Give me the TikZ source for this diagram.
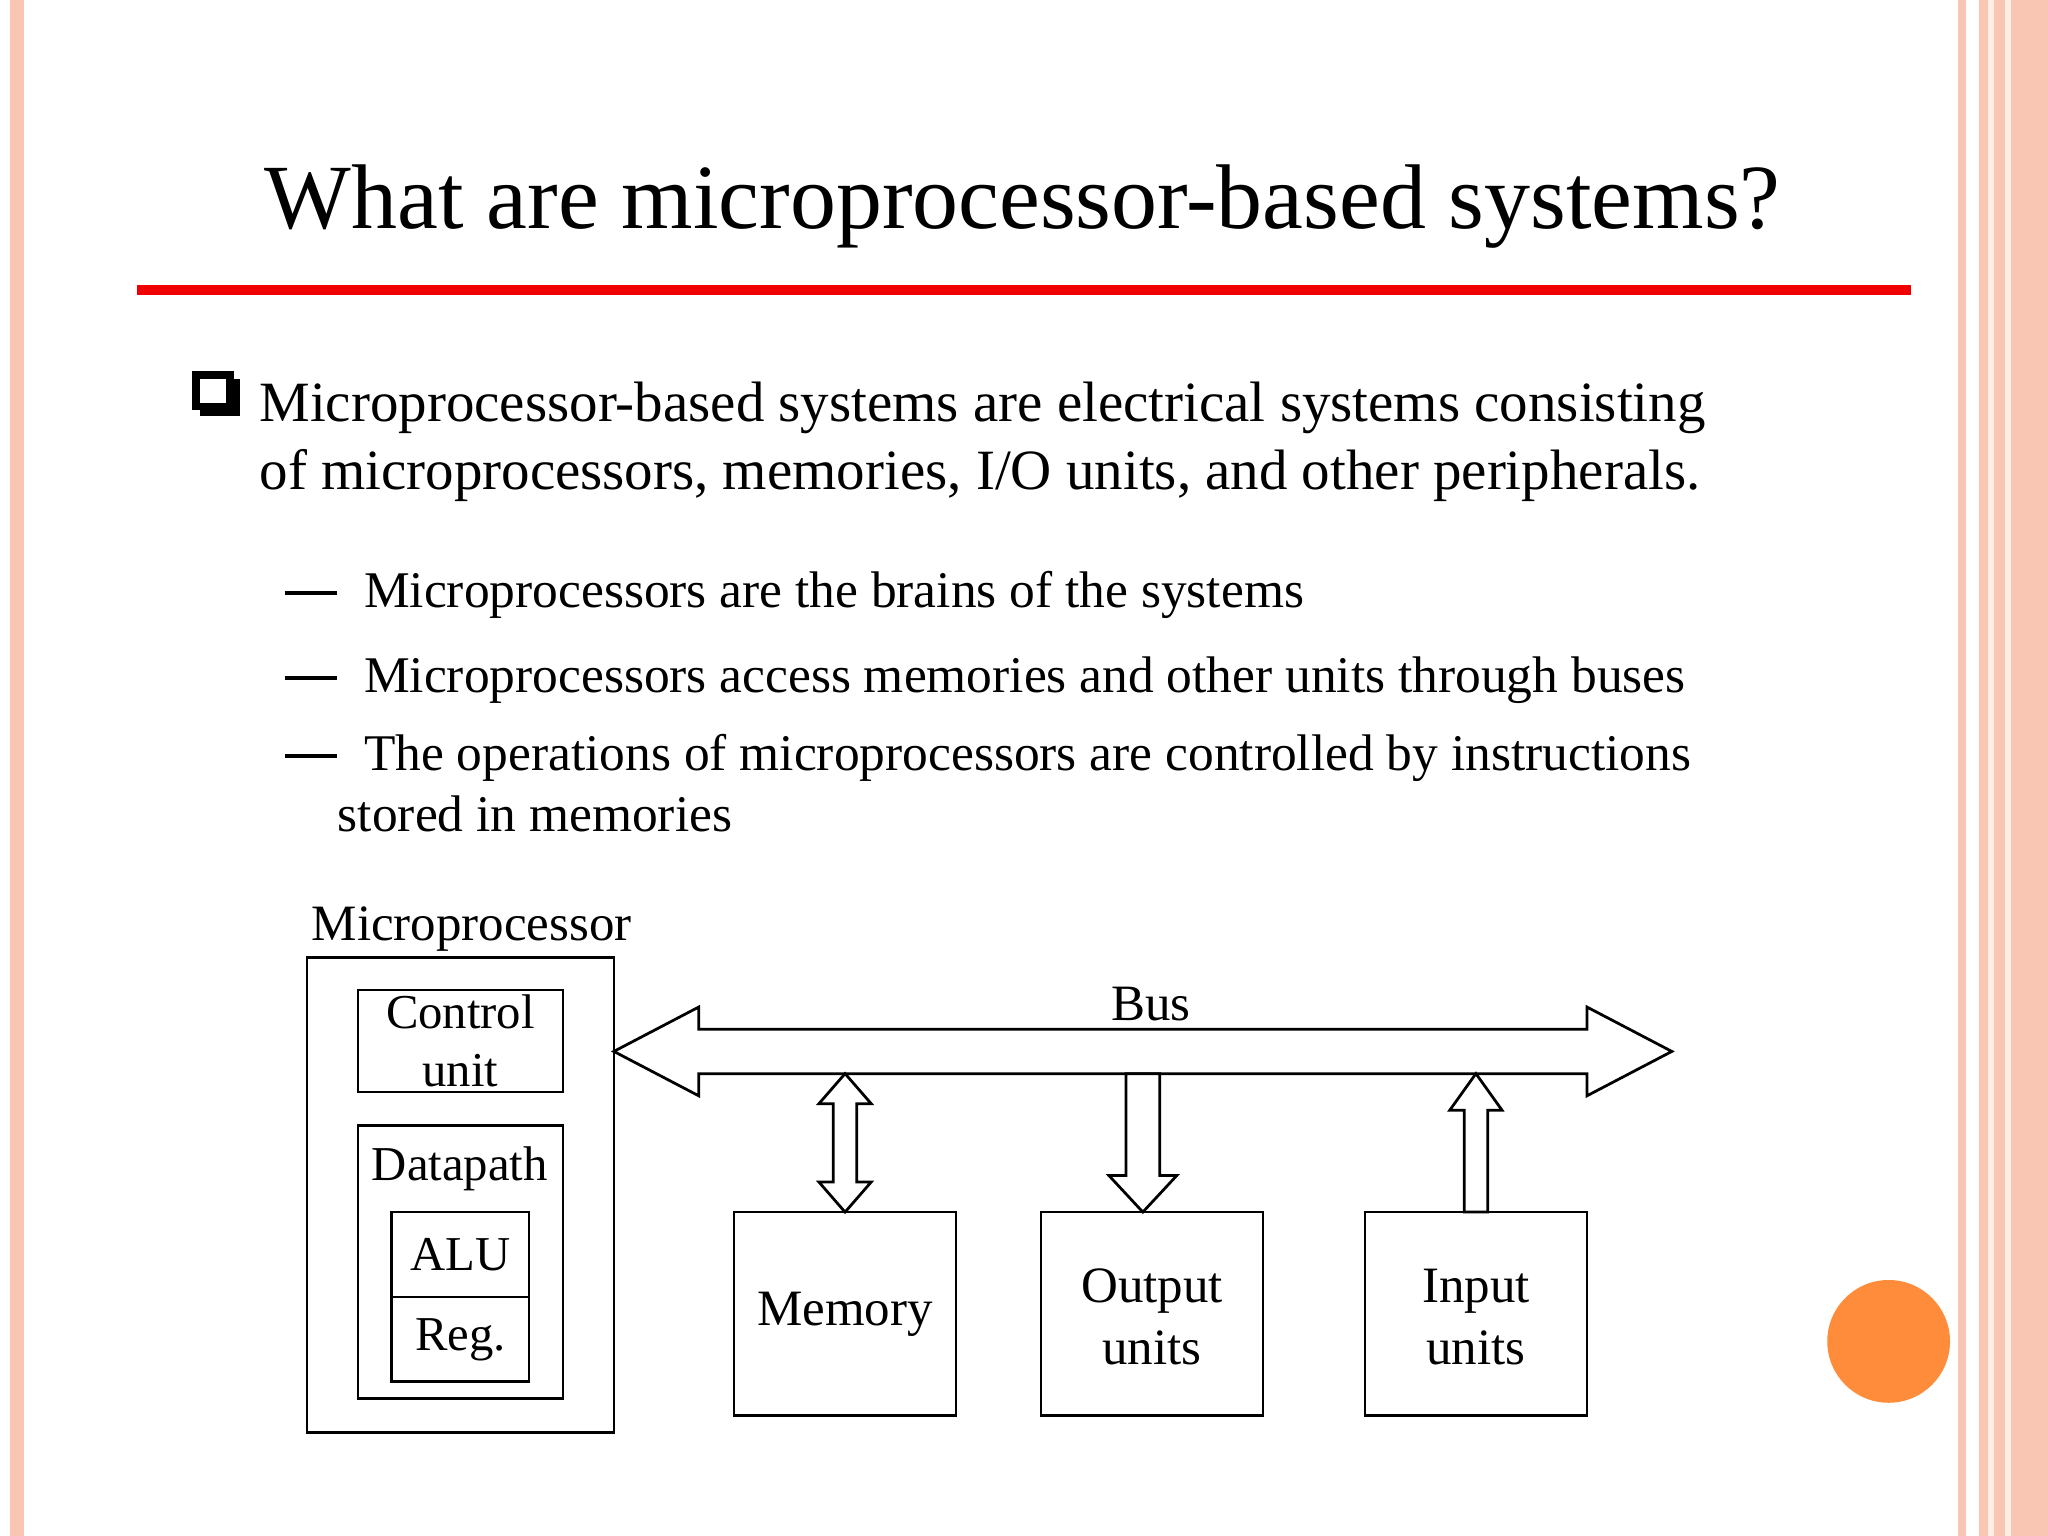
\documentclass[tikz,border=0pt]{standalone}
\usepackage{fontspec}
\setmainfont{Liberation Serif}
\definecolor{salmon}{HTML}{F8C6B2}
\definecolor{redline}{HTML}{F00000}
\definecolor{dot}{HTML}{FF8C3A}
\begin{document}
\begin{tikzpicture}[x=0.01cm,y=-0.01cm,
  box/.style={draw,line width=0.6pt},
  lbl/.style={font=\fontsize{11.1}{13.5}\selectfont,align=center,inner sep=0pt},
  slbl/.style={font=\fontsize{10.6}{12.5}\selectfont,align=center,inner sep=0pt},
  body/.style={font=\fontsize{12.4}{15}\selectfont,anchor=base west,inner sep=0pt},
  sub/.style={font=\fontsize{11.2}{14}\selectfont,anchor=base west,inner sep=0pt},
  arr/.style={draw,line width=0.6pt,fill=white}]
\useasboundingbox (0,0) rectangle (1568,1176);
\fill[white] (0,0) rectangle (1568,1176);
% borders
\fill[salmon] (8,0) rectangle (18,1176);
\fill[salmon] (1499,0) rectangle (1505,1176);
\fill[salmon] (1515,0) rectangle (1568,1176);
\fill[white!70!salmon] (1522,0) rectangle (1527,1176);
\fill[white!70!salmon] (1535,0) rectangle (1540,1176);
% title
\node[font=\fontsize{20}{24}\selectfont,anchor=base,inner sep=0pt] (title) at (783,175) {What are microprocessor-based systems?};
\fill[redline] (105,218) rectangle (1463,226);
% bullets
\draw[line width=1.6pt] (150,287) rectangle (176,311);
\draw[line width=1.6pt] (176,293) -- (181,293) -- (181,316) -- (156,316) -- (156,311);
\node[body] (b1) at (198,323) {Microprocessor-based systems are electrical systems consisting};
\node[body] (b2) at (198,375) {of microprocessors, memories, I/O units, and other peripherals.};
\foreach \yy/\t in {465/Microprocessors are the brains of the systems,530/Microprocessors access memories and other units through buses,590/The operations of microprocessors are controlled by instructions}{
  \draw[line width=0.8pt] (218,\yy-11) -- (258,\yy-11);
  \node[sub] at (278,\yy) {\t};}
\node[sub] (s4) at (258,637) {stored in memories};
% diagram
\node[lbl,anchor=base west] (mplbl) at (238,720) {Microprocessor};
\draw[box] (235,733) rectangle (470,1097);
\draw[box] (274,758) rectangle (431,836);
\node[slbl] (cu) at (352.5,797) {Control\\unit};
\draw[box] (274,862) rectangle (431,1071);
\node[slbl,anchor=base] (dp) at (352,904) {Datapath};
\draw[box] (300,928) rectangle (405,993);
\node[slbl] (alu) at (352.5,960.5) {ALU};
\draw[box] (300,993) rectangle (405,1058);
\node[slbl] (reg) at (352.5,1025.5) {Reg.};
% bus
\draw[arr] (470,805) -- (535,771) -- (535,788) -- (1215,788) -- (1215,771) -- (1280,805) -- (1215,839) -- (1215,822) -- (535,822) -- (535,839) -- cycle;
\node[lbl,anchor=base] (bus) at (881,781) {Bus};
% units
\draw[box] (562,928) rectangle (732,1084);
\node[lbl] (mem) at (647,1006) {Memory};
\draw[box] (797,928) rectangle (967,1084);
\node[lbl] (out) at (882,1008) {Output\\units};
\draw[box] (1045,928) rectangle (1215,1084);
\node[lbl] (in) at (1130,1008) {Input\\units};
% memory double arrow
\draw[arr] (647,822) -- (667,845) -- (656,845) -- (656,905) -- (667,905) -- (647,928) -- (627,905) -- (638,905) -- (638,845) -- (627,845) -- cycle;
% output arrow
\draw[arr] (862,822) -- (888,822) -- (888,900) -- (901,900) -- (875,928) -- (849,900) -- (862,900) -- cycle;
% input arrow
\draw[arr] (1130,822) -- (1150,850) -- (1139,850) -- (1139,928) -- (1121,928) -- (1121,850) -- (1110,850) -- cycle;
\fill[dot] (1446,1027) circle (47);
\end{tikzpicture}
\end{document}
